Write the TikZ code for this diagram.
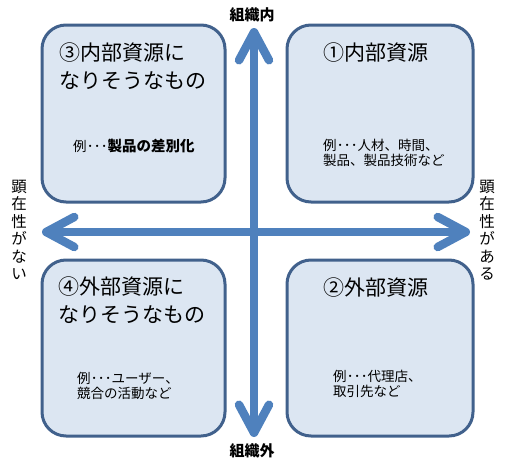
\documentclass[tikz,border=0pt]{standalone}
\usepackage{fontspec}
\setmainfont{Noto Sans CJK JP}
\usetikzlibrary{arrows.meta}
\definecolor{boxfill}{HTML}{DCE6F2}
\definecolor{boxline}{HTML}{41618C}
\definecolor{arrowblue}{HTML}{4F81BD}
\newcommand{\hdot}{\makebox[7pt]{･}}
\newcommand{\rei}{例\hdot\hdot\hdot}
\tikzset{
 quad/.style={draw=boxline, fill=boxfill, line width=3pt, rounded corners=24pt, inner sep=0pt},
 axis/.style={draw=arrowblue, line width=8.5pt, {Straight Barb[round,length=28pt,width=30pt]}-{Straight Barb[round,length=28pt,width=30pt]}},
 title/.style={anchor=west, align=left, inner sep=0pt, font=\fontsize{21}{28}\selectfont},
 body/.style={anchor=west, align=left, inner sep=0pt, font=\fontsize{13.5}{15}\selectfont},
 lab/.style={inner sep=0pt, font=\bfseries\fontsize{15}{18}\selectfont},
 vlab/.style={inner sep=0pt, align=center, font=\fontsize{15.5}{17.5}\selectfont},
}
\begin{document}
\begin{tikzpicture}[x=1pt,y=-1pt]
\useasboundingbox (0,0) rectangle (511,466);
% quadrant boxes
\node[quad, minimum width=183pt, minimum height=177pt] (q3) at (133.5,113.5) {};
\node[quad, minimum width=186pt, minimum height=177pt] (q1) at (380,113.5) {};
\node[quad, minimum width=183pt, minimum height=176pt] (q4) at (133.5,348) {};
\node[quad, minimum width=186pt, minimum height=176pt] (q2) at (380,348) {};
% axes
\coordinate (top) at (254,28);
\coordinate (bot) at (254,437);
\coordinate (lft) at (42,232);
\coordinate (rgt) at (470,232);
\draw[axis] (bot) -- (top);
\draw[axis] (lft) -- (rgt);
% texts
\node[title] (t3) at (59,66.5) {③内部資源に\\なりそうなもの};
\node[body] (b3) at (73,146) {\rei{\bfseries\fontsize{14.5}{15}\selectfont 製品の差別化}};
\node[title] (t1) at (323,53) {①内部資源};
\node[body] (b1) at (323,153) {\rei 人材、時間、\\製品、製品技術など};
\node[title] (t4) at (58,300) {④外部資源に\\なりそうなもの};
\node[body] (b4) at (77,385.5) {\rei ユーザー、\\競合の活動など};
\node[title] (t2) at (323,288) {②外部資源};
\node[body] (b2) at (333,383.5) {\rei 代理店、\\取引先など};
\node[lab] (in) at (252,15) {組織内};
\node[lab] (out) at (252,451) {組織外};
\node[vlab] (nl) at (19,230) {顕\\在\\性\\が\\な\\い};
\node[vlab] (nr) at (487,230) {顕\\在\\性\\が\\あ\\る};
\end{tikzpicture}
\end{document}
